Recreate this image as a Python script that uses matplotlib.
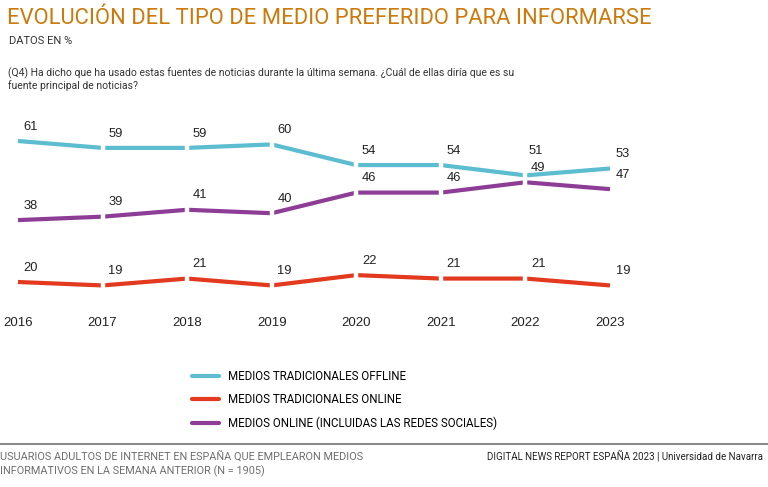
import matplotlib
matplotlib.use("Agg")
import matplotlib.pyplot as plt
from matplotlib.lines import Line2D

years = [2016, 2017, 2018, 2019, 2020, 2021, 2022, 2023]
offline = [61, 59, 59, 60, 54, 54, 51, 53]
trad_online = [20, 19, 21, 19, 22, 21, 21, 19]
online = [38, 39, 41, 40, 46, 46, 49, 47]
series_names = ["MEDIOS TRADICIONALES OFFLINE", "MEDIOS TRADICIONALES ONLINE",
                "MEDIOS ONLINE (INCLUIDAS LAS REDES SOCIALES)"]
colors = ["#5BBDCF", "#E2391F", "#8E3D97"]

sans = ["Roboto", "DejaVu Sans"]
num_font = ["Liberation Sans", "DejaVu Sans"]

W, H = 768, 487
fig = plt.figure(figsize=(W / 100, H / 100), dpi=100)

def px(x, y):
    return x / W, 1 - y / H

# axes placed so that 2016->18px, 2023->610px, 61->141px, 20->282px
left, right = 18, 610
top, bottom = 141, 282
ax = fig.add_axes([left / W, 1 - bottom / H, (right - left) / W, (bottom - top) / H])
ax.set_xlim(2016, 2023)
ax.set_ylim(20, 61)
for s in ax.spines.values():
    s.set_visible(False)
ax.set_yticks([])
ax.set_xticks(years)
ax.set_xticklabels([str(y) for y in years], fontfamily=num_font, fontsize=9.5, color="#222222")
ax.tick_params(axis="x", length=0, pad=25)

data = [offline, trad_online, online]
for vals, c in zip(data, colors):
    ax.plot(years, vals, color=c, lw=3.0, solid_capstyle="butt", clip_on=False, zorder=2)
    ax.plot(years, vals, linestyle="none", marker="|", markersize=5.5, mew=3.2,
            color="white", markevery=slice(1, -1), clip_on=False, zorder=3)

for si, (vals, c) in enumerate(zip(data, colors)):
    for i, (x, v) in enumerate(zip(years, vals)):
        dx, dy = 4, 6
        if si == 0 and x == 2022:
            dx, dy = 2, 13
        ax.annotate(str(v), (x, v), xytext=(dx, dy), textcoords="offset points",
                    ha="left", va="bottom", fontfamily=num_font, fontsize=9.3,
                    color="#222222", annotation_clip=False, zorder=4)

# Titles
fig.text(*px(7, 18), "EVOLUCIÓN DEL TIPO DE MEDIO PREFERIDO PARA INFORMARSE",
         fontfamily=sans, fontweight="normal", fontsize=15.8, color="#CC7A0C",
         va="center", ha="left")
fig.text(*px(9, 41), "DATOS EN %", fontfamily=sans, fontsize=8, color="#333333",
         va="center", ha="left")
fig.text(*px(8, 73), "(Q4) Ha dicho que ha usado estas fuentes de noticias durante la última semana. ¿Cuál de ellas diría que es su",
         fontfamily=sans, fontsize=7.5, color="#333333", va="center", ha="left")
fig.text(*px(8, 86), "fuente principal de noticias?",
         fontfamily=sans, fontsize=7.5, color="#333333", va="center", ha="left")

# Legend
handles = [Line2D([0], [0], color=c, lw=3.0, solid_capstyle="round") for c in colors]
fig.legend(handles, series_names, loc="upper left", bbox_to_anchor=px(192, 370),
           frameon=False, prop={"family": sans, "size": 8.3}, handlelength=2.3,
           handletextpad=0.85, labelspacing=0.9, borderaxespad=0, borderpad=0)

# Footer
fig.add_artist(Line2D([0, 1], [1 - 444 / H, 1 - 444 / H], transform=fig.transFigure,
                      color="#8C8C8C", lw=1.5))
fig.text(*px(0, 456), "USUARIOS ADULTOS DE INTERNET EN ESPAÑA QUE EMPLEARON MEDIOS",
         fontfamily=sans, fontsize=7.8, color="#6E6E6E", va="center", ha="left")
fig.text(*px(0, 471), "INFORMATIVOS EN LA SEMANA ANTERIOR (N = 1905)",
         fontfamily=sans, fontsize=7.8, color="#6E6E6E", va="center", ha="left")
fig.text(*px(763, 456), "DIGITAL NEWS REPORT ESPAÑA 2023 | Universidad de Navarra",
         fontfamily=sans, fontsize=7, color="#222222", va="center", ha="right")

fig.savefig("out.png", dpi=100, facecolor="white")
